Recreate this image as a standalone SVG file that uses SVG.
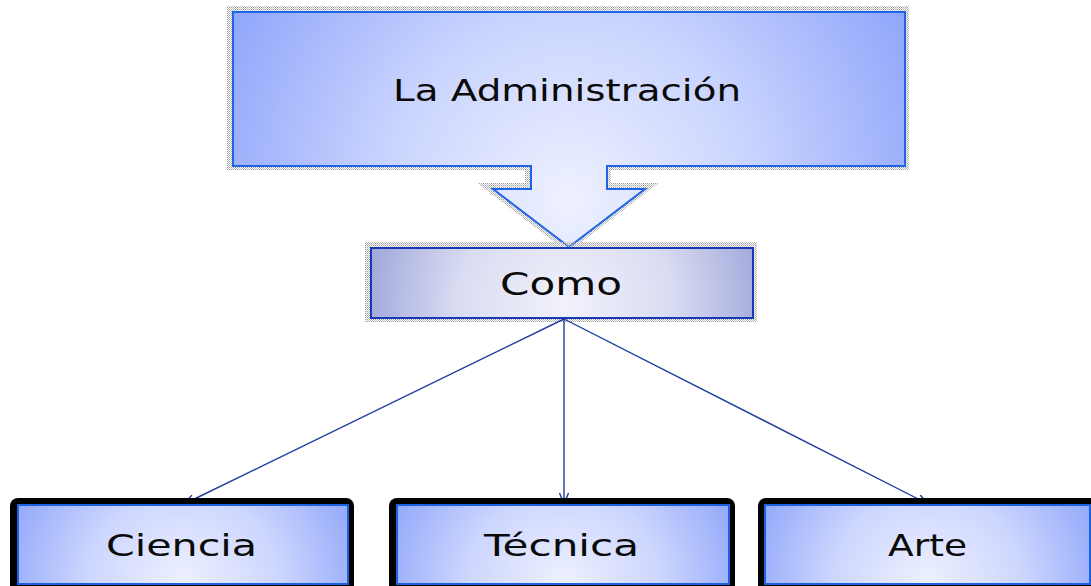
<svg xmlns="http://www.w3.org/2000/svg" width="1091" height="586" viewBox="0 0 1091 586">
  <style>
    .lbl { font-family: "DejaVu Sans", "Liberation Sans", sans-serif; fill: #0a0a0a; }
    .halo { fill: none; stroke: url(#dith); stroke-width: 10; stroke-linejoin: miter; }
    .blk { fill: #000; }
    .leaf { fill: url(#gLeaf); stroke: #1a62e0; stroke-width: 2; }
    .conn { fill: none; stroke: #1f3b9e; stroke-width: 1.4; marker-end: url(#open); }
  </style>
  <defs>
    <pattern id="dith" width="2" height="2" patternUnits="userSpaceOnUse">
      <rect width="1" height="1" fill="#9c9c9c"/>
      <rect x="1" y="1" width="1" height="1" fill="#c4c4c4"/>
    </pattern>
    <radialGradient id="gTop" gradientUnits="userSpaceOnUse" cx="569" cy="200" r="400">
      <stop offset="0" stop-color="#eef1ff"/>
      <stop offset="0.45" stop-color="#cbd5fe"/>
      <stop offset="1" stop-color="#8ba2fa"/>
    </radialGradient>
    <radialGradient id="gComo" gradientUnits="userSpaceOnUse" cx="565" cy="305" r="215">
      <stop offset="0" stop-color="#f2f2fb"/>
      <stop offset="0.5" stop-color="#d9dcf2"/>
      <stop offset="1" stop-color="#98a0d7"/>
    </radialGradient>
    <radialGradient id="gLeaf" cx="0.5" cy="1" r="0.58" gradientTransform="translate(0.5,1) scale(1,4) translate(-0.5,-1)">
      <stop offset="0" stop-color="#eef1ff"/>
      <stop offset="0.5" stop-color="#cdd6fe"/>
      <stop offset="1" stop-color="#8ea5fa"/>
    </radialGradient>
    <marker id="open" markerUnits="userSpaceOnUse" markerWidth="14" markerHeight="12" refX="12" refY="5" orient="auto">
      <path d="M1,0.5 L12,5 L1,9.5" fill="none" stroke="#1f3b9e" stroke-width="1.4"/>
    </marker>
  </defs>

  <g id="node-administracion">
    <path class="halo" d="M233,12 H905 V166 H607 V189 H645 L569,247 L493,189 H531 V166 H233 Z" transform="translate(-1,-1)"/>
    <path d="M233,12 H905 V166 H607 V189 H645 L569,247 L493,189 H531 V166 H233 Z" fill="url(#gTop)" stroke="#1e64e6" stroke-width="2"/>
    <text class="lbl" x="393" y="101" font-size="31" textLength="348" lengthAdjust="spacingAndGlyphs">La Administración</text>
  </g>

  <g id="node-como">
    <rect class="halo" x="371" y="248" width="382" height="70" transform="translate(-1,-1)"/>
    <rect x="371" y="248" width="382" height="70" fill="url(#gComo)" stroke="#1838b8" stroke-width="2"/>
    <text class="lbl" x="500" y="295" font-size="32" textLength="122" lengthAdjust="spacingAndGlyphs">Como</text>
  </g>

  <g id="connectors">
    <line class="conn" x1="564" y1="319" x2="184" y2="504"/>
    <line class="conn" x1="564" y1="319" x2="564" y2="504"/>
    <line class="conn" x1="564" y1="319" x2="928" y2="504"/>
  </g>

  <g id="node-ciencia">
    <rect class="blk" x="10" y="498" width="344" height="100" rx="8"/>
    <rect class="leaf" x="18" y="505" width="330" height="79"/>
    <text class="lbl" x="106" y="556" font-size="31" textLength="151" lengthAdjust="spacingAndGlyphs">Ciencia</text>
  </g>

  <g id="node-tecnica">
    <rect class="blk" x="389" y="498" width="346" height="100" rx="8"/>
    <rect class="leaf" x="397" y="505" width="332" height="79"/>
    <text class="lbl" x="484" y="556" font-size="31" textLength="155" lengthAdjust="spacingAndGlyphs">Técnica</text>
  </g>

  <g id="node-arte">
    <rect class="blk" x="758" y="498" width="345" height="100" rx="8"/>
    <rect class="leaf" x="765" y="505" width="325" height="79"/>
    <text class="lbl" x="888" y="556" font-size="31" textLength="79" lengthAdjust="spacingAndGlyphs">Arte</text>
  </g>
</svg>
